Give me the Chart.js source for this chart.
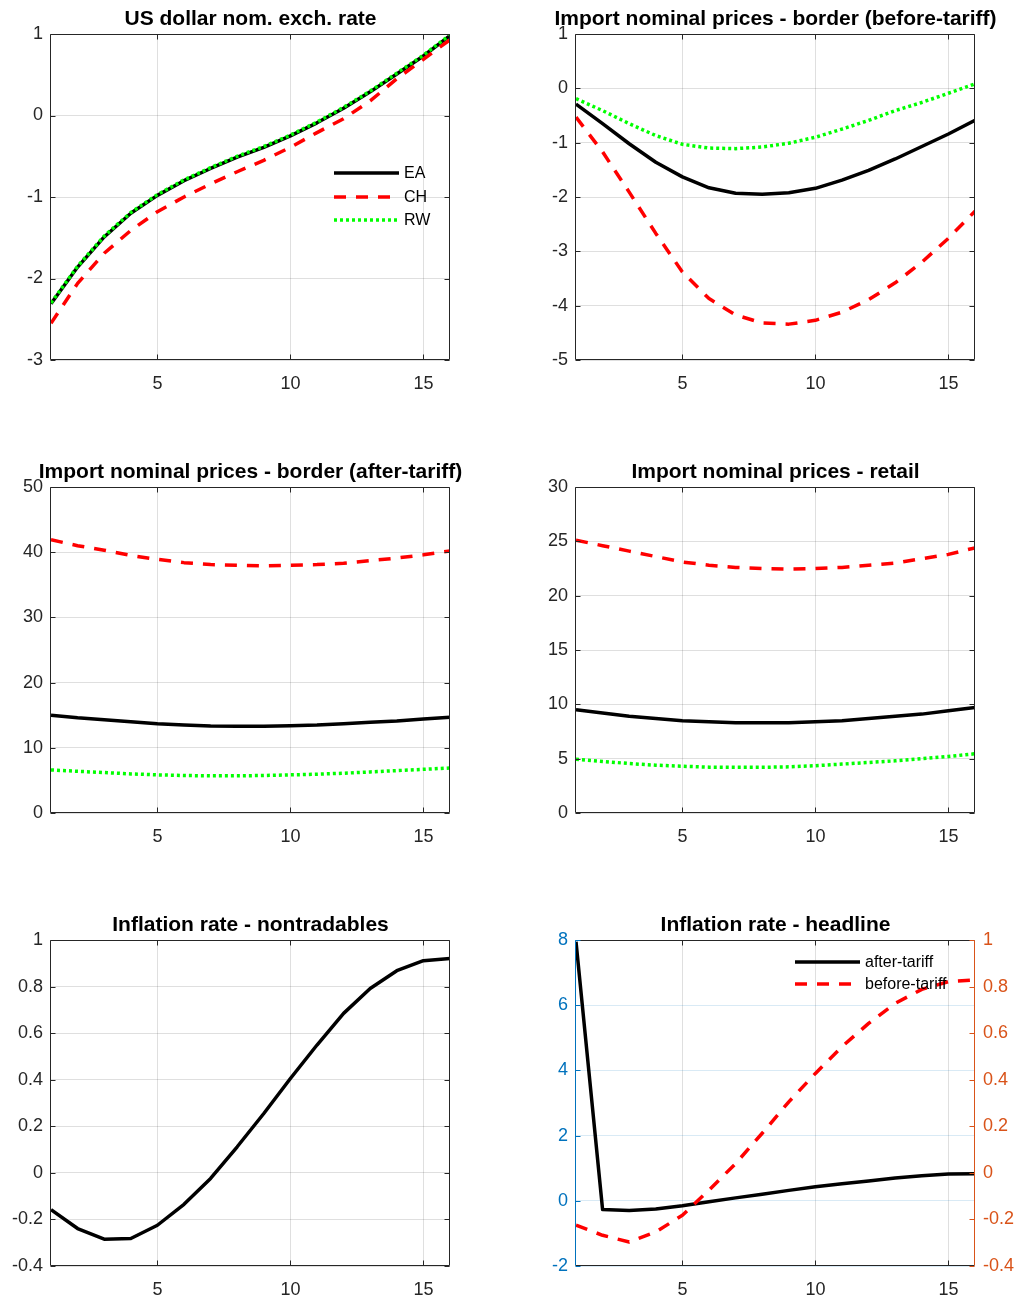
<!DOCTYPE html>
<html>
<head>
<meta charset="utf-8">
<title>Tariff shock: impulse responses</title>
<script src="https://cdn.jsdelivr.net/npm/chart.js@4.4.1/dist/chart.umd.min.js"></script>
<style>
  html, body { margin: 0; padding: 0; background: #fff; }
  #figure { position: relative; width: 1021px; height: 1300px; overflow: hidden; }
  .panel { position: absolute; }
  .panel canvas { display: block; }
</style>
</head>
<body>
<div id="figure"></div>
<script>
// === Horizon (quarters) ===
const periods = [1, 2, 3, 4, 5, 6, 7, 8, 9, 10, 11, 12, 13, 14, 15, 16];
const xTicks = [5, 10, 15];

// US dollar nominal exchange rate
const fxEA = [-2.31, -1.86, -1.49, -1.20, -0.98, -0.80, -0.65, -0.51, -0.39, -0.25, -0.09, 0.09, 0.29, 0.51, 0.73, 0.98];
const fxCH = [-2.55, -2.06, -1.69, -1.41, -1.18, -1.00, -0.84, -0.69, -0.55, -0.39, -0.21, -0.04, 0.18, 0.45, 0.69, 0.93];
const fxRW = [-2.30, -1.85, -1.48, -1.19, -0.97, -0.79, -0.64, -0.50, -0.38, -0.24, -0.08, 0.10, 0.30, 0.52, 0.74, 0.99];
const fxTicks = [-3, -2, -1, 0, 1];

// Import prices at the border, before tariff
const bEA = [-0.29, -0.65, -1.02, -1.36, -1.63, -1.83, -1.93, -1.95, -1.92, -1.84, -1.69, -1.51, -1.30, -1.07, -0.84, -0.59];
const bCH = [-0.53, -1.17, -1.91, -2.67, -3.38, -3.87, -4.17, -4.32, -4.34, -4.27, -4.12, -3.89, -3.58, -3.20, -2.76, -2.26];
const bRW = [-0.19, -0.41, -0.65, -0.87, -1.03, -1.10, -1.11, -1.08, -1.01, -0.90, -0.75, -0.59, -0.41, -0.26, -0.09, 0.08];
const bTicks = [-5, -4, -3, -2, -1, 0, 1];

// Import prices at the border, after tariff
const aEA = [15.0, 14.6, 14.3, 14.0, 13.7, 13.5, 13.35, 13.3, 13.3, 13.4, 13.5, 13.7, 13.9, 14.1, 14.4, 14.7];
const aCH = [41.9, 41.0, 40.3, 39.5, 38.9, 38.4, 38.1, 38.0, 37.9, 38.0, 38.1, 38.3, 38.7, 39.1, 39.6, 40.2];
const aRW = [6.6, 6.4, 6.2, 6.0, 5.85, 5.75, 5.7, 5.7, 5.75, 5.85, 5.95, 6.1, 6.3, 6.5, 6.7, 6.9];
const aTicks = [0, 10, 20, 30, 40, 50];

// Import prices, retail
const rEA = [9.5, 9.2, 8.9, 8.7, 8.5, 8.4, 8.3, 8.3, 8.3, 8.4, 8.5, 8.7, 8.9, 9.1, 9.4, 9.7];
const rCH = [25.1, 24.6, 24.1, 23.6, 23.1, 22.8, 22.6, 22.5, 22.45, 22.5, 22.6, 22.8, 23.0, 23.4, 23.8, 24.4];
const rRW = [4.95, 4.75, 4.55, 4.4, 4.3, 4.22, 4.2, 4.2, 4.25, 4.35, 4.5, 4.65, 4.8, 5.0, 5.2, 5.45];
const rTicks = [0, 5, 10, 15, 20, 25, 30];

// Inflation, nontradables
const ntInfl = [-0.158, -0.239, -0.285, -0.282, -0.225, -0.135, -0.024, 0.112, 0.255, 0.405, 0.549, 0.685, 0.792, 0.868, 0.911, 0.921];
const ntTicks = [-0.4, -0.2, 0, 0.2, 0.4, 0.6, 0.8, 1];

// Headline inflation (after-tariff on left axis, before-tariff on right axis)
const hAfter = [7.95, -0.27, -0.30, -0.25, -0.15, -0.03, 0.09, 0.20, 0.32, 0.43, 0.52, 0.61, 0.70, 0.77, 0.82, 0.83];
const hBefore = [-0.225, -0.268, -0.297, -0.254, -0.182, -0.074, 0.04, 0.17, 0.305, 0.427, 0.542, 0.642, 0.728, 0.788, 0.821, 0.828];
const hTicksL = [-2, 0, 2, 4, 6, 8];
const hTicksR = [-0.4, -0.2, 0, 0.2, 0.4, 0.6, 0.8, 1];

// ===== styles =====
const FONT = '"Liberation Sans", Arial, Helvetica, sans-serif';
const AXIS = '#262626';
const GRID = 'rgba(38,38,38,0.15)';
const BLUE = '#0072BD';
const ORANGE = '#D95319';
const TICK_SIZE = 18;
Chart.defaults.font.family = FONT;

const lineStyles = {
  solid:  { borderColor: '#000000', borderDash: [] },
  dashed: { borderColor: '#ff0000', borderDash: [12, 10] },
  dotted: { borderColor: '#00ff00', borderDash: [3, 3] }
};

function series(label, values, style, order, yAxisID) {
  return {
    label,
    data: periods.map((p, i) => ({ x: p, y: values[i] })),
    ...lineStyles[style],
    borderWidth: 3.5,
    borderCapStyle: 'butt',
    borderJoinStyle: 'round',
    pointRadius: 0,
    tension: 0,
    fill: false,
    order,
    yAxisID: yAxisID || 'y'
  };
}

// box, inward ticks, title and in-axes legend
const frame = {
  id: 'frame',
  afterDraw(chart, args, o) {
    const { ctx, chartArea: a } = chart;
    const sx = chart.scales.x, sy = chart.scales.y, sy2 = chart.scales.y2;
    const c = v => Math.round(v) + 0.5;
    const tl = 5;
    const L = c(a.left - 1), R = c(a.right - 1), T = c(a.top), B = c(a.bottom - 1);
    ctx.save();
    ctx.lineWidth = 1;
    ctx.setLineDash([]);

    // top / bottom edges with x ticks
    ctx.strokeStyle = AXIS;
    ctx.beginPath();
    ctx.moveTo(L, T); ctx.lineTo(R, T);
    ctx.moveTo(L, B); ctx.lineTo(R, B);
    sx.ticks.forEach(t => {
      const px = c(sx.getPixelForValue(t.value));
      ctx.moveTo(px, B); ctx.lineTo(px, B - tl);
      ctx.moveTo(px, T); ctx.lineTo(px, T + tl);
    });
    ctx.stroke();

    // left edge
    ctx.strokeStyle = o.leftColor || AXIS;
    ctx.beginPath();
    ctx.moveTo(L, T); ctx.lineTo(L, B);
    sy.ticks.forEach(t => {
      const py = c(sy.getPixelForValue(t.value));
      ctx.moveTo(L, py); ctx.lineTo(L + tl, py);
      if (!sy2) { ctx.moveTo(R, py); ctx.lineTo(R - tl, py); }
    });
    ctx.stroke();

    // right edge
    ctx.strokeStyle = o.rightColor || AXIS;
    ctx.beginPath();
    ctx.moveTo(R, T); ctx.lineTo(R, B);
    if (sy2) {
      sy2.ticks.forEach(t => {
        const py = c(sy2.getPixelForValue(t.value));
        ctx.moveTo(R, py); ctx.lineTo(R - tl, py);
      });
    }
    ctx.stroke();

    // title
    ctx.fillStyle = '#000';
    ctx.font = 'bold 21px ' + FONT;
    ctx.textAlign = 'center';
    ctx.textBaseline = 'alphabetic';
    ctx.fillText(o.title, (a.left + a.right) / 2, a.top - 9);

    // legend
    if (o.legend) {
      const lg = o.legend;
      chart.data.datasets.forEach((ds, i) => {
        const y = Math.round(a.top + lg.top + i * lg.step);
        const x0 = a.left + lg.left;
        ctx.strokeStyle = ds.borderColor;
        ctx.lineWidth = ds.borderWidth;
        ctx.lineCap = 'butt';
        ctx.setLineDash(ds.borderDash);
        ctx.beginPath();
        ctx.moveTo(x0, y); ctx.lineTo(x0 + lg.len, y);
        ctx.stroke();
        ctx.setLineDash([]);
        ctx.fillStyle = '#000';
        ctx.font = '16px ' + FONT;
        ctx.textAlign = 'left';
        ctx.textBaseline = 'middle';
        ctx.fillText(ds.label, x0 + lg.len + 5, y + 1);
      });
    }
    ctx.restore();
  }
};

// figure grid: canvas boxes and plot rectangles
const cols = [
  { x: 0, w: 510, plotL: 51, plotR: 450 },
  { x: 510, w: 511, plotL: 576, plotR: 975 }
];
const rows = [
  { y: 0, h: 410, plotT: 34, plotB: 360 },
  { y: 420, h: 440, plotT: 487, plotB: 813 },
  { y: 870, h: 430, plotT: 940, plotB: 1266 }
];

const fig = document.getElementById('figure');

function yAxis(ticks, min, max, opts) {
  return {
    type: 'linear',
    position: opts.position || 'left',
    min, max,
    afterBuildTicks: s => { s.ticks = ticks.map(v => ({ value: v })); },
    afterFit: s => { s.width = opts.width; },
    grid: { display: opts.grid !== false, color: opts.gridColor || GRID, drawTicks: false },
    border: { display: false },
    ticks: {
      color: opts.color || AXIS,
      font: { size: TICK_SIZE },
      padding: 8,
      callback: v => String(v)
    }
  };
}

function panel(col, row, title, datasets, yScales, extra) {
  const C = cols[col], R = rows[row];
  const div = document.createElement('div');
  div.className = 'panel';
  div.style.left = C.x + 'px';
  div.style.top = R.y + 'px';
  const canvas = document.createElement('canvas');
  canvas.width = C.w;
  canvas.height = R.h;
  div.appendChild(canvas);
  fig.appendChild(div);

  const rightPad = yScales.y2 ? 0 : C.x + C.w - C.plotR;
  return new Chart(canvas, {
    type: 'line',
    data: { datasets },
    options: {
      responsive: false,
      animation: false,
      events: [],
      layout: { padding: { top: R.plotT - R.y, right: rightPad, left: 0, bottom: 0 } },
      scales: {
        x: {
          type: 'linear',
          min: 1, max: 16,
          afterBuildTicks: s => { s.ticks = xTicks.map(v => ({ value: v })); },
          afterFit: s => { s.height = R.y + R.h - R.plotB; },
          grid: { color: GRID, drawTicks: false },
          border: { display: false },
          ticks: { color: AXIS, font: { size: TICK_SIZE }, padding: 13, maxRotation: 0, autoSkip: false }
        },
        ...yScales
      },
      plugins: {
        legend: { display: false },
        tooltip: { enabled: false },
        frame: { title, ...(extra || {}) }
      }
    },
    plugins: [frame]
  });
}

const leftW = c => cols[c].plotL - cols[c].x;

// ===== panels =====
panel(0, 0, 'US dollar nom. exch. rate', [
  series('EA', fxEA, 'solid', 3),
  series('CH', fxCH, 'dashed', 2),
  series('RW', fxRW, 'dotted', 1)
], { y: yAxis(fxTicks, -3, 1, { width: leftW(0) }) },
{ legend: { left: 283, top: 139, step: 23.5, len: 65 } });

panel(1, 0, 'Import nominal prices - border (before-tariff)', [
  series('EA', bEA, 'solid', 3),
  series('CH', bCH, 'dashed', 2),
  series('RW', bRW, 'dotted', 1)
], { y: yAxis(bTicks, -5, 1, { width: leftW(1) }) });

panel(0, 1, 'Import nominal prices - border (after-tariff)', [
  series('EA', aEA, 'solid', 3),
  series('CH', aCH, 'dashed', 2),
  series('RW', aRW, 'dotted', 1)
], { y: yAxis(aTicks, 0, 50, { width: leftW(0) }) });

panel(1, 1, 'Import nominal prices - retail', [
  series('EA', rEA, 'solid', 3),
  series('CH', rCH, 'dashed', 2),
  series('RW', rRW, 'dotted', 1)
], { y: yAxis(rTicks, 0, 30, { width: leftW(1) }) });

panel(0, 2, 'Inflation rate - nontradables', [
  series('EA', ntInfl, 'solid', 1)
], { y: yAxis(ntTicks, -0.4, 1, { width: leftW(0) }) });

panel(1, 2, 'Inflation rate - headline', [
  series('after-tariff', hAfter, 'solid', 2, 'y'),
  series('before-tariff', hBefore, 'dashed', 1, 'y2')
], {
  y: yAxis(hTicksL, -2, 8, { width: leftW(1), color: BLUE, gridColor: 'rgba(0,114,189,0.15)' }),
  y2: yAxis(hTicksR, -0.4, 1, { width: cols[1].x + cols[1].w - cols[1].plotR, position: 'right', color: ORANGE, grid: false })
},
{ leftColor: BLUE, rightColor: ORANGE, legend: { left: 219, top: 22, step: 21.6, len: 65 } });
</script>
</body>
</html>
